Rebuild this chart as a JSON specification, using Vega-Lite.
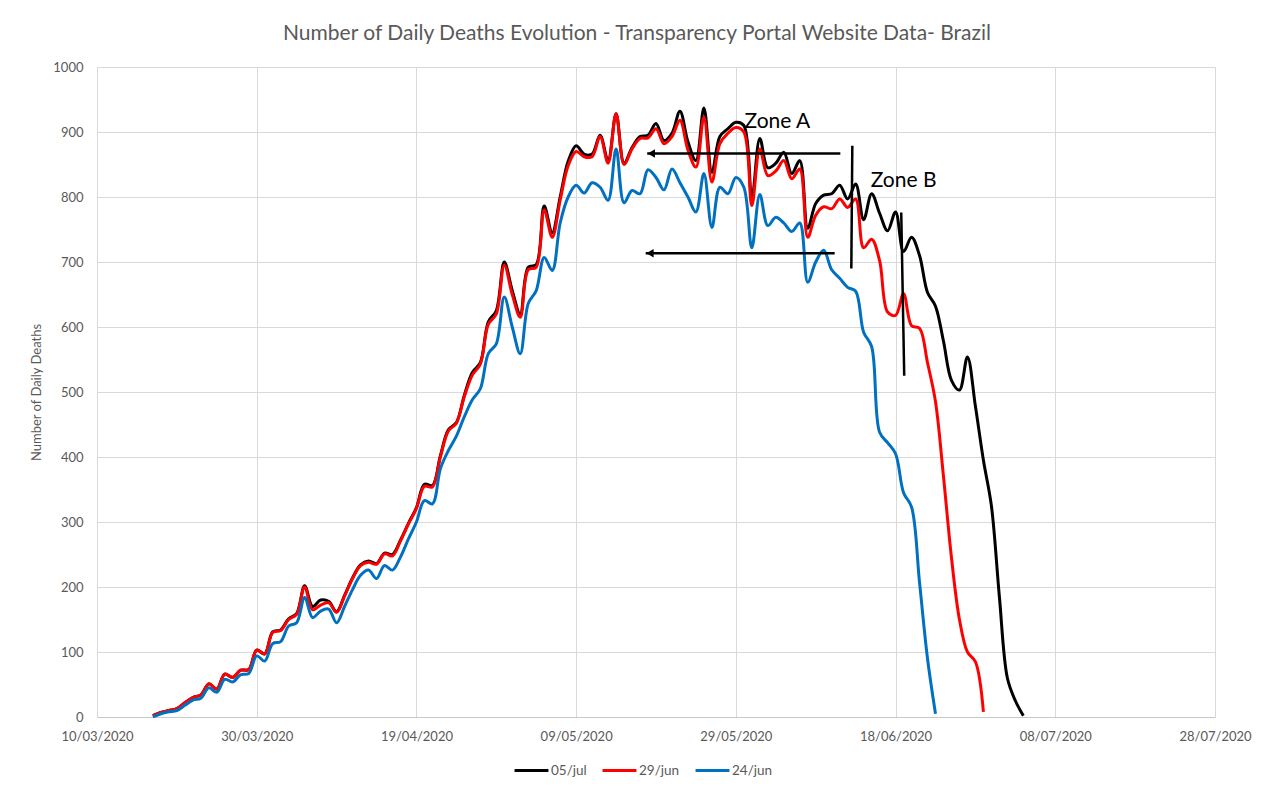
{
  "$schema": "https://vega.github.io/schema/vega-lite/v6.json",
  "width": 1118,
  "height": 650,
  "autosize": {"type": "none"},
  "padding": {"left": 97, "top": 67, "right": 65, "bottom": 85},
  "background": "white",
  "config": {
    "font": "Lato",
    "view": {"stroke": null},
    "axis": {
      "labelFont": "Lato",
      "labelFontSize": 13,
      "labelColor": "#595959",
      "gridColor": "#d9d9d9",
      "gridWidth": 1,
      "ticks": false,
      "titleFont": "Lato",
      "titleFontWeight": "normal",
      "titleColor": "#595959"
    }
  },
  "title": {
    "text": "Number of Daily Deaths Evolution - Transparency Portal Website Data- Brazil",
    "font": "Lato",
    "fontSize": 21,
    "fontWeight": "normal",
    "color": "#595959",
    "anchor": "middle",
    "frame": "group",
    "dx": -19,
    "offset": 17
  },
  "datasets": {
    "deaths": [
      {"date": "2020-03-17", "05/jul": 2, "29/jun": 2, "24/jun": 0},
      {"date": "2020-03-18", "05/jul": 7, "29/jun": 7, "24/jun": 5},
      {"date": "2020-03-19", "05/jul": 10, "29/jun": 10, "24/jun": 8},
      {"date": "2020-03-20", "05/jul": 13, "29/jun": 13, "24/jun": 10},
      {"date": "2020-03-21", "05/jul": 22, "29/jun": 22, "24/jun": 18},
      {"date": "2020-03-22", "05/jul": 30, "29/jun": 30, "24/jun": 26},
      {"date": "2020-03-23", "05/jul": 34, "29/jun": 34, "24/jun": 29},
      {"date": "2020-03-24", "05/jul": 51, "29/jun": 51, "24/jun": 45},
      {"date": "2020-03-25", "05/jul": 43, "29/jun": 43, "24/jun": 38},
      {"date": "2020-03-26", "05/jul": 66, "29/jun": 66, "24/jun": 58},
      {"date": "2020-03-27", "05/jul": 61, "29/jun": 61, "24/jun": 54},
      {"date": "2020-03-28", "05/jul": 72, "29/jun": 72, "24/jun": 65},
      {"date": "2020-03-29", "05/jul": 73, "29/jun": 73, "24/jun": 67},
      {"date": "2020-03-30", "05/jul": 103, "29/jun": 103, "24/jun": 94},
      {"date": "2020-03-31", "05/jul": 97, "29/jun": 97, "24/jun": 86},
      {"date": "2020-04-01", "05/jul": 131, "29/jun": 130, "24/jun": 113},
      {"date": "2020-04-02", "05/jul": 134, "29/jun": 133, "24/jun": 116},
      {"date": "2020-04-03", "05/jul": 151, "29/jun": 150, "24/jun": 140},
      {"date": "2020-04-04", "05/jul": 159, "29/jun": 158, "24/jun": 145},
      {"date": "2020-04-05", "05/jul": 202, "29/jun": 200, "24/jun": 184},
      {"date": "2020-04-06", "05/jul": 170, "29/jun": 165, "24/jun": 153},
      {"date": "2020-04-07", "05/jul": 180, "29/jun": 172, "24/jun": 163},
      {"date": "2020-04-08", "05/jul": 178, "29/jun": 176, "24/jun": 166},
      {"date": "2020-04-09", "05/jul": 162, "29/jun": 161, "24/jun": 145},
      {"date": "2020-04-10", "05/jul": 187, "29/jun": 186, "24/jun": 170},
      {"date": "2020-04-11", "05/jul": 214, "29/jun": 213, "24/jun": 196},
      {"date": "2020-04-12", "05/jul": 234, "29/jun": 233, "24/jun": 218},
      {"date": "2020-04-13", "05/jul": 240, "29/jun": 238, "24/jun": 226},
      {"date": "2020-04-14", "05/jul": 236, "29/jun": 235, "24/jun": 213},
      {"date": "2020-04-15", "05/jul": 252, "29/jun": 251, "24/jun": 233},
      {"date": "2020-04-16", "05/jul": 250, "29/jun": 248, "24/jun": 226},
      {"date": "2020-04-17", "05/jul": 272, "29/jun": 271, "24/jun": 246},
      {"date": "2020-04-18", "05/jul": 298, "29/jun": 297, "24/jun": 274},
      {"date": "2020-04-19", "05/jul": 322, "29/jun": 321, "24/jun": 300},
      {"date": "2020-04-20", "05/jul": 358, "29/jun": 355, "24/jun": 333},
      {"date": "2020-04-21", "05/jul": 356, "29/jun": 354, "24/jun": 328},
      {"date": "2020-04-22", "05/jul": 402, "29/jun": 400, "24/jun": 382},
      {"date": "2020-04-23", "05/jul": 442, "29/jun": 440, "24/jun": 410},
      {"date": "2020-04-24", "05/jul": 453, "29/jun": 452, "24/jun": 432},
      {"date": "2020-04-25", "05/jul": 495, "29/jun": 493, "24/jun": 462},
      {"date": "2020-04-26", "05/jul": 530, "29/jun": 526, "24/jun": 488},
      {"date": "2020-04-27", "05/jul": 545, "29/jun": 543, "24/jun": 505},
      {"date": "2020-04-28", "05/jul": 608, "29/jun": 604, "24/jun": 559},
      {"date": "2020-04-29", "05/jul": 625, "29/jun": 620, "24/jun": 574},
      {"date": "2020-04-30", "05/jul": 700, "29/jun": 695, "24/jun": 646},
      {"date": "2020-05-01", "05/jul": 656, "29/jun": 650, "24/jun": 600},
      {"date": "2020-05-02", "05/jul": 620, "29/jun": 615, "24/jun": 559},
      {"date": "2020-05-03", "05/jul": 692, "29/jun": 688, "24/jun": 636},
      {"date": "2020-05-04", "05/jul": 696, "29/jun": 692, "24/jun": 656},
      {"date": "2020-05-05", "05/jul": 786, "29/jun": 780, "24/jun": 707},
      {"date": "2020-05-06", "05/jul": 745, "29/jun": 738, "24/jun": 687},
      {"date": "2020-05-07", "05/jul": 800, "29/jun": 795, "24/jun": 760},
      {"date": "2020-05-08", "05/jul": 855, "29/jun": 848, "24/jun": 800},
      {"date": "2020-05-09", "05/jul": 879, "29/jun": 870, "24/jun": 818},
      {"date": "2020-05-10", "05/jul": 866, "29/jun": 862, "24/jun": 806},
      {"date": "2020-05-11", "05/jul": 866, "29/jun": 862, "24/jun": 822},
      {"date": "2020-05-12", "05/jul": 895, "29/jun": 893, "24/jun": 815},
      {"date": "2020-05-13", "05/jul": 856, "29/jun": 852, "24/jun": 795},
      {"date": "2020-05-14", "05/jul": 928, "29/jun": 928, "24/jun": 874},
      {"date": "2020-05-15", "05/jul": 852, "29/jun": 850, "24/jun": 791},
      {"date": "2020-05-16", "05/jul": 876, "29/jun": 874, "24/jun": 810},
      {"date": "2020-05-17", "05/jul": 893, "29/jun": 890, "24/jun": 805},
      {"date": "2020-05-18", "05/jul": 895, "29/jun": 891, "24/jun": 842},
      {"date": "2020-05-19", "05/jul": 913, "29/jun": 905, "24/jun": 830},
      {"date": "2020-05-20", "05/jul": 887, "29/jun": 882, "24/jun": 811},
      {"date": "2020-05-21", "05/jul": 898, "29/jun": 893, "24/jun": 843},
      {"date": "2020-05-22", "05/jul": 932, "29/jun": 918, "24/jun": 822},
      {"date": "2020-05-23", "05/jul": 885, "29/jun": 872, "24/jun": 800},
      {"date": "2020-05-24", "05/jul": 856, "29/jun": 846, "24/jun": 777},
      {"date": "2020-05-25", "05/jul": 937, "29/jun": 923, "24/jun": 836},
      {"date": "2020-05-26", "05/jul": 838, "29/jun": 823, "24/jun": 753},
      {"date": "2020-05-27", "05/jul": 893, "29/jun": 882, "24/jun": 815},
      {"date": "2020-05-28", "05/jul": 905, "29/jun": 898, "24/jun": 805},
      {"date": "2020-05-29", "05/jul": 915, "29/jun": 907, "24/jun": 830},
      {"date": "2020-05-30", "05/jul": 910, "29/jun": 900, "24/jun": 815},
      {"date": "2020-05-31", "05/jul": 798, "29/jun": 787, "24/jun": 722},
      {"date": "2020-06-01", "05/jul": 890, "29/jun": 874, "24/jun": 804},
      {"date": "2020-06-02", "05/jul": 845, "29/jun": 833, "24/jun": 756},
      {"date": "2020-06-03", "05/jul": 852, "29/jun": 840, "24/jun": 769},
      {"date": "2020-06-04", "05/jul": 869, "29/jun": 856, "24/jun": 760},
      {"date": "2020-06-05", "05/jul": 836, "29/jun": 828, "24/jun": 747},
      {"date": "2020-06-06", "05/jul": 856, "29/jun": 843, "24/jun": 760},
      {"date": "2020-06-07", "05/jul": 752, "29/jun": 738, "24/jun": 669},
      {"date": "2020-06-08", "05/jul": 790, "29/jun": 772, "24/jun": 700},
      {"date": "2020-06-09", "05/jul": 803, "29/jun": 785, "24/jun": 718},
      {"date": "2020-06-10", "05/jul": 805, "29/jun": 782, "24/jun": 688},
      {"date": "2020-06-11", "05/jul": 818, "29/jun": 797, "24/jun": 675},
      {"date": "2020-06-12", "05/jul": 797, "29/jun": 784, "24/jun": 661},
      {"date": "2020-06-13", "05/jul": 820, "29/jun": 797, "24/jun": 655},
      {"date": "2020-06-14", "05/jul": 765, "29/jun": 722, "24/jun": 592},
      {"date": "2020-06-15", "05/jul": 805, "29/jun": 735, "24/jun": 570},
      {"date": "2020-06-16", "05/jul": 775, "29/jun": 702, "24/jun": 438},
      {"date": "2020-06-17", "05/jul": 748, "29/jun": 623, "24/jun": 422},
      {"date": "2020-06-18", "05/jul": 777, "29/jun": 618, "24/jun": 405},
      {"date": "2020-06-19", "05/jul": 716, "29/jun": 651, "24/jun": 345},
      {"date": "2020-06-20", "05/jul": 738, "29/jun": 602, "24/jun": 323},
      {"date": "2020-06-21", "05/jul": 710, "29/jun": 598, "24/jun": 207},
      {"date": "2020-06-22", "05/jul": 653, "29/jun": 545, "24/jun": 90},
      {"date": "2020-06-23", "05/jul": 632, "29/jun": 485, "24/jun": 5},
      {"date": "2020-06-24", "05/jul": 578, "29/jun": 370},
      {"date": "2020-06-25", "05/jul": 518, "29/jun": 245},
      {"date": "2020-06-26", "05/jul": 503, "29/jun": 150},
      {"date": "2020-06-27", "05/jul": 554, "29/jun": 100},
      {"date": "2020-06-28", "05/jul": 478, "29/jun": 85},
      {"date": "2020-06-29", "05/jul": 395, "29/jun": 8},
      {"date": "2020-06-30", "05/jul": 325},
      {"date": "2020-07-01", "05/jul": 185},
      {"date": "2020-07-02", "05/jul": 60},
      {"date": "2020-07-03", "05/jul": 25},
      {"date": "2020-07-04", "05/jul": 2}
    ],
    "segments": [
      {"from": "2020-05-17T21:36:00Z", "to": "2020-06-11T02:00:00Z", "v1": 867, "v2": 867},
      {"from": "2020-05-17T17:00:00Z", "to": "2020-06-10T09:00:00Z", "v1": 713.5, "v2": 713.5},
      {"from": "2020-06-12T14:00:00Z", "to": "2020-06-12T11:00:00Z", "v1": 879, "v2": 690},
      {"from": "2020-06-18T17:00:00Z", "to": "2020-06-19T02:00:00Z", "v1": 776, "v2": 525}
    ],
    "heads": [
      {"at": "2020-05-18T10:00:00Z", "v": 867},
      {"at": "2020-05-18T06:00:00Z", "v": 713.5}
    ],
    "labels": [
      {"at": "2020-06-03T05:00:00Z", "v": 915, "text": "Zone A"},
      {"at": "2020-06-19T00:00:00Z", "v": 825, "text": "Zone B"}
    ]
  },
  "layer": [
    {
      "data": {"name": "deaths"},
      "transform": [
        {"fold": ["05/jul", "29/jun", "24/jun"], "as": ["series", "deaths"]},
        {"filter": "isValid(datum.deaths)"}
      ],
      "mark": {"type": "line", "interpolate": "catmull-rom", "strokeWidth": 3},
      "encoding": {
        "x": {
          "field": "date",
          "type": "temporal",
          "scale": {
            "type": "utc",
            "domain": [
              {"year": 2020, "month": 3, "date": 10, "utc": true},
              {"year": 2020, "month": 7, "date": 28, "utc": true}
            ]
          },
          "axis": {
            "title": null,
            "format": "%d/%m/%Y",
            "values": [
              {"year": 2020, "month": 3, "date": 10, "utc": true},
              {"year": 2020, "month": 3, "date": 30, "utc": true},
              {"year": 2020, "month": 4, "date": 19, "utc": true},
              {"year": 2020, "month": 5, "date": 9, "utc": true},
              {"year": 2020, "month": 5, "date": 29, "utc": true},
              {"year": 2020, "month": 6, "date": 18, "utc": true},
              {"year": 2020, "month": 7, "date": 8, "utc": true},
              {"year": 2020, "month": 7, "date": 28, "utc": true}
            ],
            "grid": true,
            "domain": true,
            "domainColor": "#c8c8c8",
            "labelPadding": 13,
            "labelFlush": false,
            "labelOverlap": false
          }
        },
        "y": {
          "field": "deaths",
          "type": "quantitative",
          "scale": {"domain": [0, 1000], "nice": false},
          "axis": {
            "title": "Number of Daily Deaths",
            "titleFontSize": 13,
            "titlePadding": 9,
            "format": "d",
            "values": [0, 100, 200, 300, 400, 500, 600, 700, 800, 900, 1000],
            "domain": false,
            "grid": true,
            "labelPadding": 14
          }
        },
        "color": {
          "field": "series",
          "type": "nominal",
          "scale": {"domain": ["05/jul", "29/jun", "24/jun"], "range": ["#000000", "#ff0000", "#0070c0"]},
          "legend": {
            "title": null,
            "orient": "none",
            "direction": "horizontal",
            "legendX": 416,
            "legendY": 685,
            "symbolType": "stroke",
            "symbolStrokeWidth": 3,
            "symbolSize": 1150,
            "labelFont": "Lato",
            "labelFontSize": 13.5,
            "labelColor": "#595959",
            "labelOffset": 1,
            "columnPadding": 9,
            "padding": 0
          }
        }
      }
    },
    {
      "data": {"name": "segments"},
      "mark": {"type": "rule", "color": "#000000", "strokeWidth": 2.5},
      "encoding": {
        "x": {"field": "from", "type": "temporal"},
        "x2": {"field": "to"},
        "y": {"field": "v1", "type": "quantitative"},
        "y2": {"field": "v2"}
      }
    },
    {
      "data": {"name": "heads"},
      "mark": {"type": "point", "shape": "triangle-left", "filled": true, "color": "#000000", "size": 70, "opacity": 1},
      "encoding": {
        "x": {"field": "at", "type": "temporal"},
        "y": {"field": "v", "type": "quantitative"}
      }
    },
    {
      "data": {"name": "labels"},
      "mark": {"type": "text", "font": "Lato", "fontSize": 21, "color": "#000000", "align": "center", "baseline": "middle"},
      "encoding": {
        "x": {"field": "at", "type": "temporal"},
        "y": {"field": "v", "type": "quantitative"},
        "text": {"field": "text"}
      }
    }
  ]
}
